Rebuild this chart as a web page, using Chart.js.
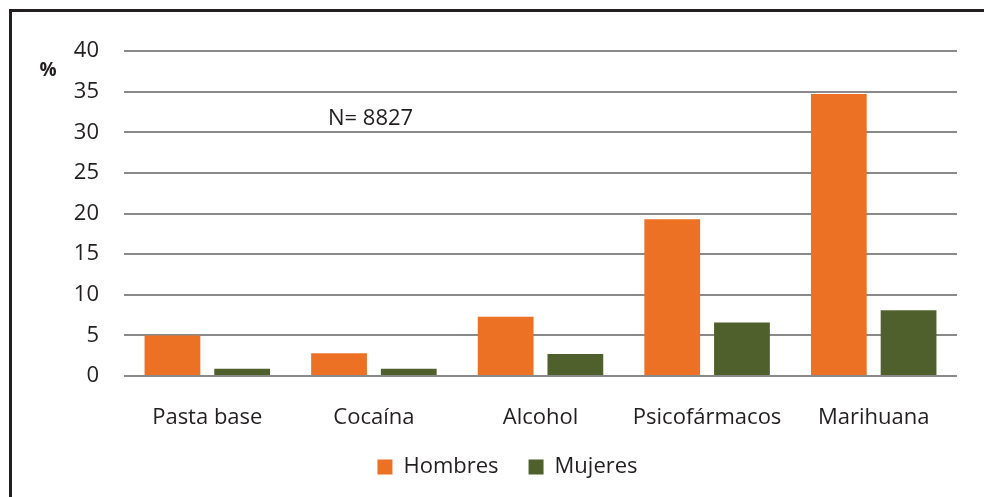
<!DOCTYPE html>
<html>
<head>
<meta charset="utf-8">
<script src="https://cdn.jsdelivr.net/npm/chart.js@4"></script>
<style>
  html, body { margin: 0; padding: 0; background: #fff; }
  body { width: 984px; height: 497px; position: relative; overflow: hidden; }
  .frame {
    position: absolute; left: 9px; top: 9px; width: 1100px; height: 600px;
    border-left: 3px solid #231f20; border-top: 3px solid #231f20;
  }
  .wrap { position: absolute; left: 0; top: 0; width: 984px; height: 497px; }
</style>
</head>
<body>
<div class="frame"></div>
<div class="wrap"><canvas id="chart" width="984" height="497"></canvas></div>
<script>
const categories = ["Pasta base", "Cocaína", "Alcohol", "Psicofármacos", "Marihuana"];
const hombres = [5.0, 2.8, 7.3, 19.3, 34.7];
const mujeres = [0.9, 0.9, 2.7, 6.6, 8.1];
const yTicks = [0, 5, 10, 15, 20, 25, 30, 35, 40];

const textColor = "#231f20";
const fontFamily = "'Open Sans', sans-serif";

// "%" label and the N annotation
const annotations = {
  id: "annotations",
  afterDraw(chart) {
    const ctx = chart.ctx;
    ctx.save();
    ctx.fillStyle = textColor;
    ctx.textBaseline = "middle";
    ctx.font = "bold 19px " + fontFamily;
    ctx.textAlign = "center";
    ctx.fillText("%", 48, 71);
    ctx.font = "22px " + fontFamily;
    ctx.textAlign = "left";
    ctx.fillText("N= 8827", 328, 119);
    ctx.restore();
  }
};

new Chart(document.getElementById("chart").getContext("2d"), {
  type: "bar",
  data: {
    labels: categories,
    datasets: [
      { label: "Hombres", data: hombres, backgroundColor: "#ed7125" },
      { label: "Mujeres", data: mujeres, backgroundColor: "#4f602c" }
    ]
  },
  options: {
    responsive: false,
    animation: false,
    categoryPercentage: 0.837,
    barPercentage: 0.8,
    layout: { padding: { top: 51, right: 27, bottom: 9, left: 58 } },
    scales: {
      x: {
        grid: { display: false, drawTicks: false },
        border: { display: false },
        ticks: { color: textColor, font: { family: fontFamily, size: 22 }, padding: 29 },
        afterFit(scale) { scale.height = 50; }
      },
      y: {
        min: 0,
        max: 40,
        afterBuildTicks(scale) { scale.ticks = yTicks.map(v => ({ value: v })); },
        grid: { color: "#8a8a8a", lineWidth: 2, drawTicks: false },
        border: { display: false },
        ticks: { color: textColor, font: { family: fontFamily, size: 22 }, padding: 25 },
        afterFit(scale) { scale.width = 66; }
      }
    },
    plugins: {
      legend: {
        position: "bottom",
        labels: {
          color: textColor,
          font: { family: fontFamily, size: 22 },
          boxWidth: 15,
          boxHeight: 15,
          padding: 30
        }
      },
      tooltip: { enabled: false }
    }
  },
  plugins: [annotations]
});
</script>
</body>
</html>
